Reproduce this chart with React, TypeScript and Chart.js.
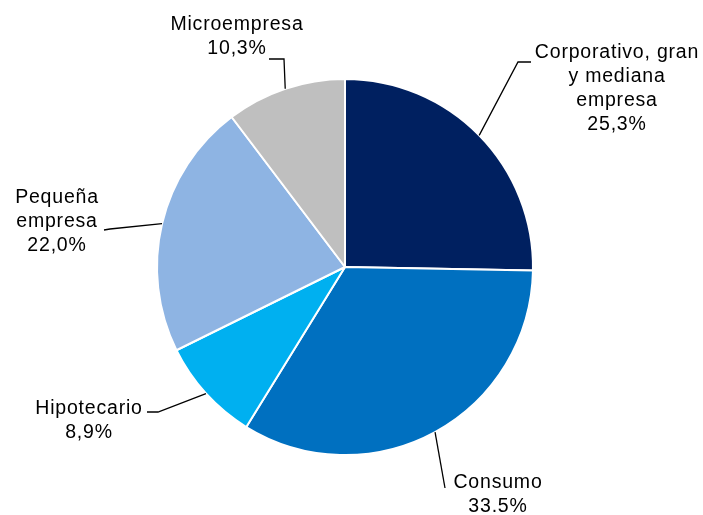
import React, { useEffect, useRef } from "react";
import { Chart, registerables } from "chart.js";

Chart.register(...registerables);

const categories = [
  "Corporativo, gran y mediana empresa",
  "Consumo",
  "Hipotecario",
  "Pequeña empresa",
  "Microempresa",
];
const shares = [25.3, 33.5, 8.9, 22.0, 10.3];
const labelLines = [
  ["Corporativo, gran", "y mediana", "empresa", "25,3%"],
  ["Consumo", "33.5%"],
  ["Hipotecario", "8,9%"],
  ["Pequeña", "empresa", "22,0%"],
  ["Microempresa", "10,3%"],
];
const sliceColors = ["#002060", "#0070C0", "#00B0F0", "#8EB4E3", "#BFBFBF"];

// label layout (text center x, first line y; leader elbow and end points)
const labelLayout = [
  { x: 617, y: 53, pts: [[518, 62], [531, 62]] },
  { x: 498, y: 483, pts: [[445, 488]] },
  { x: 89, y: 409, pts: [[158, 412], [147, 412]] },
  { x: 57, y: 198, pts: [[110, 229], [104, 230]] },
  { x: 237, y: 25, pts: [[284, 59], [269, 59]] },
];

const labelPlugin = {
  id: "pieLabels",
  afterDraw(chart: any) {
    const ctx = chart.ctx;
    const meta = chart.getDatasetMeta(0);
    ctx.save();
    ctx.strokeStyle = "#000000";
    ctx.lineWidth = 1.3;
    ctx.fillStyle = "#000000";
    ctx.font = "19.5px 'Liberation Sans', Arial, sans-serif";
    (ctx as any).letterSpacing = "0.8px";
    ctx.textAlign = "center";
    ctx.textBaseline = "middle";
    meta.data.forEach((arc: any, i: number) => {
      const p = arc.getProps(["x", "y", "startAngle", "endAngle", "outerRadius"], true);
      const mid = (p.startAngle + p.endAngle) / 2;
      const sx = p.x + Math.cos(mid) * p.outerRadius;
      const sy = p.y + Math.sin(mid) * p.outerRadius;
      const lay = labelLayout[i];
      ctx.beginPath();
      ctx.moveTo(sx, sy);
      lay.pts.forEach((pt) => ctx.lineTo(pt[0], pt[1]));
      ctx.stroke();
      labelLines[i].forEach((t, k) => {
        ctx.fillText(t, lay.x, lay.y + k * 24);
      });
    });
    ctx.restore();
  },
};

export default function App() {
  const ref = useRef<HTMLCanvasElement>(null);
  useEffect(() => {
    document.body.style.margin = "0";
    const chart = new Chart(ref.current!, {
      type: "pie",
      data: {
        labels: categories,
        datasets: [
          {
            data: shares,
            backgroundColor: sliceColors,
            borderColor: "#ffffff",
            borderWidth: 2,
          },
        ],
      },
      options: {
        animation: false,
        responsive: false,
        layout: { padding: { left: 156, right: 169, top: 78, bottom: 59 } },
        plugins: {
          legend: { display: false },
          tooltip: { enabled: false },
        },
      },
      plugins: [labelPlugin],
    });
    return () => chart.destroy();
  }, []);
  return (
    <div style={{ width: 703, height: 515, background: "#fff" }}>
      <canvas ref={ref} width={703} height={515} />
    </div>
  );
}
